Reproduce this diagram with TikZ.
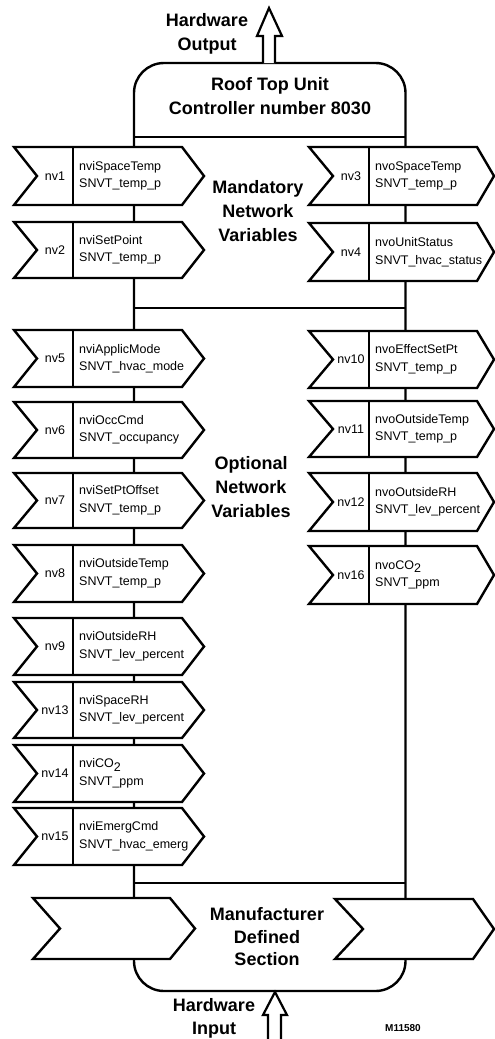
\documentclass[tikz,border=0pt]{standalone}
\usepackage{fontspec}
\setmainfont{Liberation Sans}
\tikzset{
  outline/.style={line width=2.4pt},
  arrowshape/.style={line width=2.4pt, fill=white, line join=miter},
  divider/.style={line width=1.6pt},
  nvtext/.style={font=\fontsize{12.5}{15}\selectfont, inner sep=0pt},
  vartext/.style={font=\fontsize{12.5}{17.5}\selectfont, align=left, inner sep=0pt, anchor=west},
  bigtext/.style={font=\fontsize{18}{24}\selectfont\bfseries, align=center, inner sep=0pt},
  hwarrow/.style={line width=2.2pt, fill=white, line join=miter}
}
\newcommand{\LArrow}[6]{%
  \draw[arrowshape] (14,#2) -- (182,#2) -- (204,{(#2+#3)/2}) -- (182,#3) -- (14,#3) -- (37,{(#2+#3)/2}) -- cycle;
  \draw[divider] (73,#2) -- (73,#3);
  \node[nvtext] (#1n) at (55,{(#2+#3)/2}) {#4};
  \node[vartext] (#1v) at (79,{(#2+#3)/2}) {#5\\#6};
}
\newcommand{\RArrow}[6]{%
  \draw[arrowshape] (309,#2) -- (477,#2) -- (494,{(#2+#3)/2}) -- (477,#3) -- (309,#3) -- (333,{(#2+#3)/2}) -- cycle;
  \draw[divider] (369,#2) -- (369,#3);
  \node[nvtext] (#1n) at (351,{(#2+#3)/2}) {#4};
  \node[vartext] (#1v) at (375,{(#2+#3)/2}) {#5\\#6};
}
\newcommand{\COtwo}{CO\raisebox{-0.28em}{2}}
\begin{document}
\begin{tikzpicture}[x=1pt,y=-1pt]
\useasboundingbox (0,0) rectangle (495,1039);
% main controller outline
\draw[outline, rounded corners=30pt] (134,63) rectangle (405.5,991);
\draw[outline] (134,137) -- (405.5,137);
\draw[outline] (134,308) -- (405.5,308);
\draw[outline] (134,883) -- (405.5,883);
% hardware output arrow
\draw[hwarrow] (263,63) -- (263,36) -- (257,36) -- (269,8) -- (282,36) -- (275,36) -- (275,63);
\node[bigtext] (hwout) at (207,34) {Hardware\\Output};
% title
\node[bigtext] (title) at (270,96) {Roof Top Unit\\Controller number 8030};
% mandatory
\LArrow{a1}{147}{205}{nv1}{nviSpaceTemp}{SNVT\_temp\_p}
\LArrow{a2}{222}{278}{nv2}{nviSetPoint}{SNVT\_temp\_p}
\RArrow{a3}{147}{205}{nv3}{nvoSpaceTemp}{SNVT\_temp\_p}
\RArrow{a4}{223}{281}{nv4}{nvoUnitStatus}{SNVT\_hvac\_status}
\node[bigtext] (mand) at (258,211) {Mandatory\\Network\\Variables};
% optional
\LArrow{a5}{330}{387}{nv5}{nviApplicMode}{SNVT\_hvac\_mode}
\LArrow{a6}{402}{458}{nv6}{nviOccCmd}{SNVT\_occupancy}
\LArrow{a7}{473}{528}{nv7}{nviSetPtOffset}{SNVT\_temp\_p}
\LArrow{a8}{545}{602}{nv8}{nviOutsideTemp}{SNVT\_temp\_p}
\LArrow{a9}{618}{675}{nv9}{nviOutsideRH}{SNVT\_lev\_percent}
\LArrow{a13}{682}{738}{nv13}{nviSpaceRH}{SNVT\_lev\_percent}
\LArrow{a14}{745}{802}{nv14}{nvi\COtwo}{SNVT\_ppm}
\LArrow{a15}{808}{865}{nv15}{nviEmergCmd}{SNVT\_hvac\_emerg}
\RArrow{a10}{331}{388}{nv10}{nvoEffectSetPt}{SNVT\_temp\_p}
\RArrow{a11}{401}{457}{nv11}{nvoOutsideTemp}{SNVT\_temp\_p}
\RArrow{a12}{473}{531}{nv12}{nvoOutsideRH}{SNVT\_lev\_percent}
\RArrow{a16}{546}{604}{nv16}{nvo\COtwo}{SNVT\_ppm}
\node[bigtext] (opt) at (251,487) {Optional\\Network\\Variables};
% manufacturer defined section
\draw[arrowshape] (33,898) -- (170,898) -- (195,928.5) -- (170,959) -- (33,959) -- (60,928.5) -- cycle;
\draw[arrowshape] (335,899) -- (473,899) -- (494,929) -- (473,959) -- (335,959) -- (363,929) -- cycle;
\node[bigtext, font=\fontsize{18}{22.5}\selectfont\bfseries] (manu) at (267,937) {Manufacturer\\Defined\\Section};
% hardware input arrow
\draw[hwarrow] (268,1045) -- (268,1015) -- (263,1015) -- (275,992) -- (287,1015) -- (281,1015) -- (281,1045);
\node[bigtext, font=\fontsize{18}{23}\selectfont\bfseries] (hwin) at (214,1018) {Hardware\\Input};
\node[font=\fontsize{10}{12}\selectfont\bfseries, inner sep=0pt] (mnum) at (403,1028) {M11580};
\end{tikzpicture}
\end{document}
